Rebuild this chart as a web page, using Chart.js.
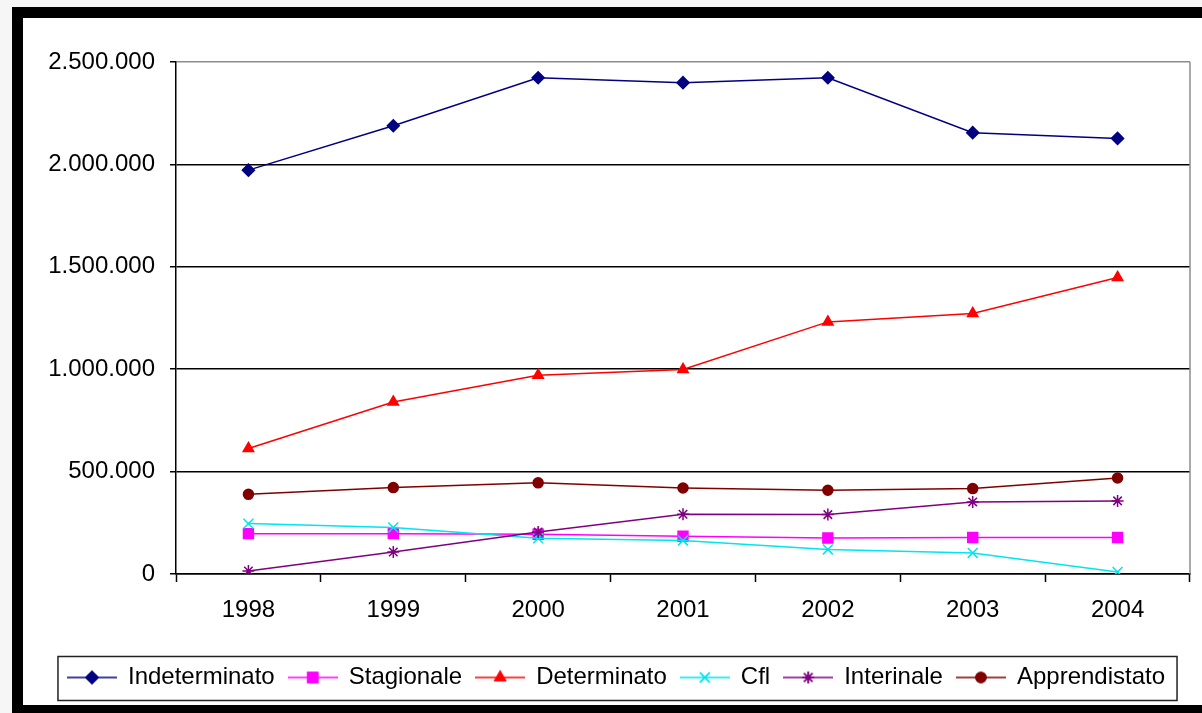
<!DOCTYPE html>
<html>
<head>
<meta charset="utf-8">
<script src="https://cdn.jsdelivr.net/npm/chart.js@4/dist/chart.umd.min.js"></script>
<style>
  html, body { margin: 0; padding: 0; }
  body { width: 1202px; height: 713px; overflow: hidden; background: #f6f6f6; position: relative; }
  #frame {
    position: absolute; left: 12px; top: 7px; width: 1202px; height: 709px;
    box-sizing: border-box; border: 11px solid #000; background: #fff;
  }
  #myChart { position: absolute; left: 0; top: 0; }
</style>
</head>
<body>
<div id="frame"><canvas id="myChart" width="1179" height="687"></canvas></div>
<script>
var anni = ['1998', '1999', '2000', '2001', '2002', '2003', '2004'];
var indeterminato = [1972000, 2189000, 2423000, 2399000, 2423000, 2155000, 2127000];
var stagionale = [197000, 197000, 194000, 184000, 176000, 178000, 178000];
var determinato = [613000, 840000, 971000, 999000, 1231000, 1272000, 1448000];
var cfl = [246000, 227000, 174000, 164000, 120000, 103000, 10000];
var interinale = [15000, 107000, 205000, 292000, 290000, 352000, 357000];
var apprendistato = [389000, 422000, 445000, 420000, 409000, 417000, 469000];

var font = { family: '"Liberation Sans", Arial, sans-serif', size: 24 };

// serie: nome, valori, colore, marker, raggio
var serie = [
    ['Indeterminato', indeterminato, '#000080', 'rectRot', 6],
    ['Stagionale', stagionale, '#ff00ff', 'rect', 7],
    ['Determinato', determinato, '#ff0000', 'triangle', 6],
    ['Cfl', cfl, '#00e5ee', 'crossRot', 7],
    ['Interinale', interinale, '#800080', 'star', 6],
    ['Apprendistato', apprendistato, '#800000', 'circle', 5]
];

// piccola immagine linea + marker per la legenda
function legendIcon(color, style, radius) {
    var c = document.createElement('canvas');
    c.width = 50; c.height = 20;
    var g = c.getContext('2d');
    g.strokeStyle = color; g.lineWidth = 1.5;
    g.beginPath(); g.moveTo(0, 10); g.lineTo(50, 10); g.stroke();
    g.fillStyle = color;
    Chart.helpers.drawPoint(g, { pointStyle: style, radius: radius, borderWidth: 1.5 }, 25, 10);
    g.fill();
    g.stroke();
    return c;
}

var datasets = serie.map(function (s, i) {
    return {
        label: s[0],
        data: s[1],
        borderColor: s[2],
        backgroundColor: s[2],
        pointBackgroundColor: s[2],
        pointBorderColor: s[2],
        pointStyle: s[3],
        pointRadius: s[4],
        pointBorderWidth: 1.5,
        borderWidth: 1.5,
        tension: 0,
        order: serie.length - i,
        icon: legendIcon(s[2], s[3], s[4])
    };
});

function formatNumero(v) {
    return String(v).replace(/\B(?=(\d{3})+(?!\d))/g, '.');
}

var bordoPlugin = {
    id: 'bordo',
    beforeDatasetsDraw: function (chart) {
        var a = chart.chartArea, g = chart.ctx;
        g.save();
        g.strokeStyle = '#8c8c8c'; g.lineWidth = 1.5;
        g.beginPath(); g.moveTo(a.right, a.top); g.lineTo(a.right, a.bottom); g.stroke();
        g.restore();
    },
    afterDraw: function (chart) {
        var hb = chart.legend.legendHitBoxes;
        if (!hb || !hb.length) return;
        var last = hb[hb.length - 1];
        var l = hb[0].left - 10, r = last.left + last.width + 12;
        var t = hb[0].top - 9, b = hb[0].top + 35;
        var g = chart.ctx;
        g.save();
        g.strokeStyle = '#222'; g.lineWidth = 1.5;
        g.strokeRect(l, t, r - l, b - t);
        g.restore();
    }
};

var ctx = document.getElementById('myChart');
var myChart = new Chart(ctx, {
    type: 'line',
    data: { labels: anni, datasets: datasets },
    plugins: [bordoPlugin],
    options: {
        responsive: false,
        animation: false,
        devicePixelRatio: 1,
        layout: { padding: { top: 44, right: 12, bottom: 5.5, left: 20 } },
        plugins: {
            tooltip: { enabled: false },
            legend: {
                position: 'bottom',
                labels: {
                    usePointStyle: true,
                    pointStyleWidth: 48,
                    boxHeight: 20,
                    padding: 14,
                    color: '#000',
                    font: font,
                    generateLabels: function (chart) {
                        return chart.data.datasets.map(function (d, i) {
                            return {
                                text: d.label,
                                pointStyle: d.icon,
                                fillStyle: d.borderColor,
                                strokeStyle: d.borderColor,
                                fontColor: '#000',
                                lineWidth: 0,
                                hidden: false,
                                datasetIndex: i
                            };
                        });
                    }
                }
            }
        },
        scales: {
            x: {
                type: 'category',
                offset: true,
                grid: {
                    offset: true,
                    drawOnChartArea: false,
                    drawTicks: true,
                    tickLength: 8,
                    tickColor: '#000',
                    tickWidth: 1.5
                },
                border: { display: true, color: '#000', width: 1.5 },
                ticks: { color: '#000', font: font, padding: 14, maxRotation: 0 },
                afterFit: function (s) { s.height = 77.5; }
            },
            y: {
                min: 0,
                max: 2500000,
                ticks: {
                    stepSize: 500000,
                    color: '#000',
                    font: font,
                    padding: 15,
                    callback: function (v) { return formatNumero(v); }
                },
                grid: {
                    color: function (c) { return c.tick && c.tick.value === 2500000 ? '#8c8c8c' : '#000'; },
                    lineWidth: 1.5,
                    tickLength: 6,
                    tickColor: '#000'
                },
                border: { display: true, color: '#000', width: 1.5 },
                afterFit: function (s) { s.width = 133; }
            }
        }
    }
});
</script>
</body>
</html>
